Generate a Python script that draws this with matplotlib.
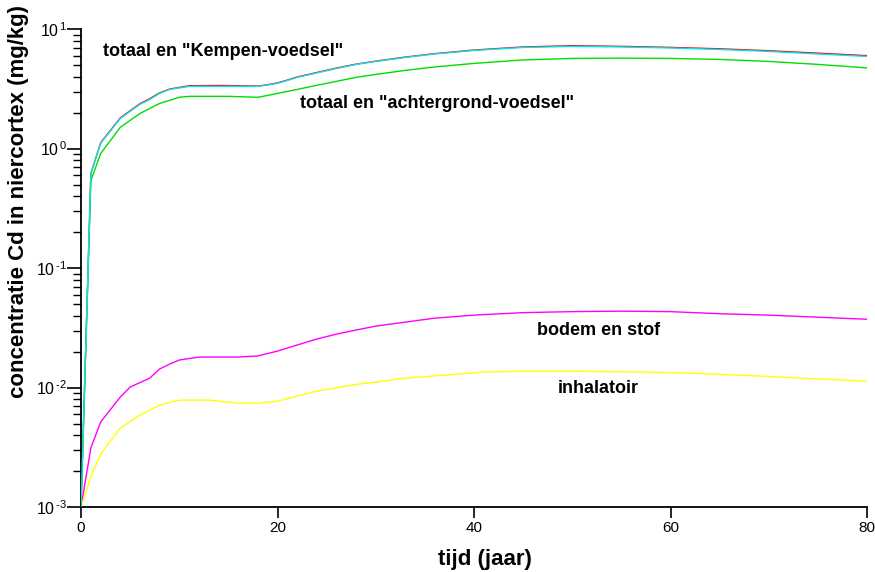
import matplotlib
matplotlib.use("Agg")
import matplotlib.pyplot as plt
from matplotlib.ticker import LogLocator, FuncFormatter, NullFormatter
import numpy as np

plt.rcParams['font.family'] = ['Liberation Sans', 'DejaVu Sans']
plt.rcParams['mathtext.fontset'] = 'custom'
plt.rcParams['mathtext.rm'] = 'Liberation Sans'
plt.rcParams['mathtext.it'] = 'Liberation Sans'

# data
t_kempen = [0, 1, 2, 4, 6, 7, 8, 9, 11, 14, 18, 19, 20, 21, 22, 24, 26, 28, 30, 33, 36,
            40, 45, 50, 55, 60, 65, 70, 75, 80]
kempen_cyan = [0.001, 0.62, 1.11, 1.79, 2.35, 2.58, 2.90, 3.13, 3.32, 3.32, 3.32, 3.41, 3.52,
               3.72, 3.95, 4.30, 4.69, 5.07, 5.37, 5.80, 6.20, 6.64, 7.03, 7.17, 7.10, 6.96,
               6.76, 6.51, 6.20, 5.91]
kempen_red = [0.001, 0.62, 1.12, 1.81, 2.38, 2.62, 2.93, 3.15, 3.36, 3.38, 3.34, 3.43, 3.55,
              3.75, 3.98, 4.34, 4.73, 5.10, 5.40, 5.84, 6.24, 6.69, 7.10, 7.27, 7.18, 7.04,
              6.85, 6.60, 6.30, 6.00]

t_achter = [0, 1, 2, 4, 6, 8, 10, 11, 15, 18, 19, 20, 22, 24, 26, 28, 30, 33, 36, 40, 45,
            50, 55, 60, 65, 70, 75, 80]
achtergrond = [0.001, 0.54, 0.91, 1.51, 1.97, 2.39, 2.69, 2.74, 2.74, 2.69, 2.79, 2.90, 3.13,
               3.39, 3.66, 3.95, 4.18, 4.52, 4.83, 5.17, 5.53, 5.69, 5.72, 5.69, 5.58, 5.37,
               5.07, 4.74]

t_bodem = [0, 1, 2, 4, 5, 7, 8, 9, 10, 12, 16, 18, 20, 22, 24, 26, 28, 30, 33, 36, 40, 45,
           50, 55, 60, 65, 70, 75, 80]
bodem = [0.001, 0.00312, 0.00515, 0.00834, 0.0101, 0.0120, 0.0143, 0.0157, 0.0170, 0.0180,
         0.0180, 0.0184, 0.0202, 0.0227, 0.0255, 0.0280, 0.0303, 0.0327, 0.0353, 0.0381,
         0.0404, 0.0424, 0.0432, 0.0436, 0.0432, 0.0415, 0.0404, 0.0388, 0.0373]

t_inhal = [0, 1, 2, 4, 6, 8, 10, 13, 16, 18, 20, 22, 24, 27, 29, 30, 33, 37, 41, 45, 50, 57,
           62, 69, 75, 80]
inhalatoir = [0.001, 0.00179, 0.00278, 0.00458, 0.00589, 0.00713, 0.00785, 0.00785, 0.00741,
              0.00741, 0.00769, 0.00847, 0.00933, 0.0103, 0.0109, 0.0111, 0.0120, 0.0127,
              0.0135, 0.0137, 0.0137, 0.0135, 0.0132, 0.0125, 0.0118, 0.0113]

fig = plt.figure(figsize=(8.75, 5.72), dpi=100)
ax = fig.add_axes([0.0926, 0.1136, 0.8984, 0.8354])

lw = 1.0
ax.plot(t_kempen, kempen_red, color='#ff0000', lw=lw, zorder=2)
ax.plot(t_kempen, kempen_cyan, color='#00e8ee', lw=lw, zorder=3)
ax.plot(t_achter, achtergrond, color='#00dd00', lw=lw, zorder=2)
ax.plot(t_bodem, bodem, color='#ff00ff', lw=lw, zorder=2)
ax.plot(t_inhal, inhalatoir, color='#ffff00', lw=lw, zorder=2)


def fmt_pow(v, pos):
    e = int(round(np.log10(v)))
    if e < 0:
        return r'$10^{\,\text{-}%d}$' % (-e)
    return r'$10^{\,%d}$' % e


ax.set_yscale('log')
ax.set_xlim(0, 80)
ax.set_ylim(1e-3, 1e1)
ax.set_xticks([0, 20, 40, 60, 80])
ax.yaxis.set_major_locator(LogLocator(base=10))
ax.yaxis.set_major_formatter(FuncFormatter(fmt_pow))
ax.yaxis.set_minor_locator(LogLocator(base=10, subs=range(2, 10)))
ax.yaxis.set_minor_formatter(NullFormatter())

for s in ['top', 'right']:
    ax.spines[s].set_visible(False)
for s in ['left', 'bottom']:
    ax.spines[s].set_linewidth(1.3)

ax.tick_params(axis='y', which='major', direction='out', length=10, width=1.2, labelsize=11.5, pad=0)
ax.tick_params(axis='y', which='minor', direction='out', length=6, width=1.0)
ax.tick_params(axis='x', which='major', direction='out', length=8, width=1.2, labelsize=11, pad=2)

ax.set_xlabel('tijd (jaar)', fontsize=16, fontweight='bold', labelpad=10)
ax.set_ylabel('concentratie Cd in niercortex (mg/kg)', fontsize=16, fontweight='bold', labelpad=5)
ax.xaxis.label.set_x(0.514)
ax.yaxis.label.set_y(0.64)

ax.text(2.2, 6.5, 'totaal en "Kempen-voedsel"', fontsize=13, fontweight='bold', va='center')
ax.text(22.3, 2.39, 'totaal en "achtergrond-voedsel"', fontsize=13, fontweight='bold', va='center')
ax.text(46.4, 0.0303, 'bodem en stof', fontsize=13, fontweight='bold', va='center')
ax.text(48.5, 0.0099, 'inhalatoir', fontsize=13, fontweight='bold', va='center')

fig.savefig('out.png', dpi=100)
